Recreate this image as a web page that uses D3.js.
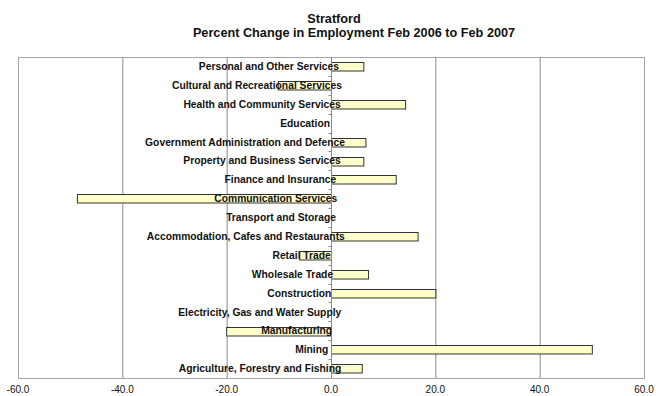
<!DOCTYPE html>
<html><head><meta charset="utf-8">
<script src="https://cdn.jsdelivr.net/npm/d3@7"></script>
<style>body{margin:0;background:#fff}svg{display:block}</style>
</head><body>
<svg id="c" width="656" height="396"></svg>
<script>
const categories = [
  "Personal and Other Services",
  "Cultural and Recreational Services",
  "Health and Community Services",
  "Education",
  "Government Administration and Defence",
  "Property and Business Services",
  "Finance and Insurance",
  "Communication Services",
  "Transport and Storage",
  "Accommodation, Cafes and Restaurants",
  "Retail Trade",
  "Wholesale Trade",
  "Construction",
  "Electricity, Gas and Water Supply",
  "Manufacturing",
  "Mining",
  "Agriculture, Forestry and Fishing"
];
const values = [6.2, -10.2, 14.2, 0, 6.6, 6.2, 12.4, -48.7, 0, 16.6, -6.1, 7.1, 20.0, 0, -20.1, 50.0, 5.9];
const xTicks = [-60, -40, -20, 0, 20, 40, 60];
const titleLines = ["Stratford", "Percent Change in Employment Feb 2006 to Feb 2007"];

const svg = d3.select("#c");
const L = 18, R = 644, T = 57, B = 378;
const x = d3.scaleLinear().domain([-60, 60]).range([L, R]);
const y = d3.scaleBand().domain(categories).range([T, B]).paddingInner(0.55).paddingOuter(0.275);
const yb = d3.scaleBand().domain(categories).range([T, B]);

// gridlines
svg.append("g").selectAll("line").data(xTicks.filter(d => d !== -60 && d !== 60 && d !== 0)).join("line")
  .attr("x1", d => x(d) + 0.5).attr("x2", d => x(d) + 0.5)
  .attr("y1", T).attr("y2", B)
  .attr("stroke", "#8a8a8a").attr("stroke-width", 1);

// plot border
svg.append("rect").attr("x", L + 0.5).attr("y", T + 0.5).attr("width", R - L).attr("height", B - T)
  .attr("fill", "none").attr("stroke", "#a6a6a6").attr("stroke-width", 1);

// bars
svg.append("g").selectAll("rect").data(categories).join("rect")
  .attr("x", (d, i) => Math.min(x(0), x(values[i])) + 0.5)
  .attr("y", d => Math.round(y(d)) + 0.5)
  .attr("width", (d, i) => Math.abs(x(values[i]) - x(0)))
  .attr("height", y.bandwidth())
  .attr("fill", "#FFFFCC").attr("stroke", "#333").attr("stroke-width", 1)
  .attr("display", (d, i) => values[i] === 0 ? "none" : null);

// zero axis line with ticks
const z = Math.round(x(0)) + 0.5;
svg.append("line").attr("x1", z).attr("x2", z).attr("y1", T).attr("y2", B)
  .attr("stroke", "#8a8a8a").attr("stroke-width", 1);
svg.append("g").selectAll("line").data(categories.slice(1)).join("line")
  .attr("x1", z - 3).attr("x2", z)
  .attr("y1", d => Math.round(yb(d)) + 0.5).attr("y2", d => Math.round(yb(d)) + 0.5)
  .attr("stroke", "#8a8a8a");

// category labels
const lab = svg.append("g").selectAll("text").data(categories).join("text")
  .attr("y", d => yb(d) + yb.bandwidth() / 2)
  .attr("dy", "0.35em")
  .attr("font-family", "Liberation Sans, Arial, sans-serif")
  .attr("font-weight", "bold").attr("font-size", "10.3px").attr("fill", "#111")
  .text(d => d);
lab.each(function() {
  const w = this.getComputedTextLength();
  d3.select(this).attr("x", 325 - 0.9 * w);
});

// x axis tick labels
svg.append("g").selectAll("text").data(xTicks).join("text")
  .attr("x", d => x(d)).attr("y", 393)
  .attr("text-anchor", "middle")
  .attr("font-family", "Liberation Sans, Arial, sans-serif")
  .attr("font-size", "10px").attr("fill", "#111")
  .text(d => d3.format(".1f")(d).replace("\u2212", "-"));

// titles
svg.append("text").attr("x", 334).attr("y", 23).attr("text-anchor", "middle")
  .attr("font-family", "Liberation Sans, Arial, sans-serif").attr("font-weight", "bold")
  .attr("font-size", "12.7px").attr("fill", "#111").text(titleLines[0]);
svg.append("text").attr("x", 354).attr("y", 37).attr("text-anchor", "middle")
  .attr("font-family", "Liberation Sans, Arial, sans-serif").attr("font-weight", "bold")
  .attr("font-size", "12.7px").attr("fill", "#111").text(titleLines[1]);
</script>
</body></html>
